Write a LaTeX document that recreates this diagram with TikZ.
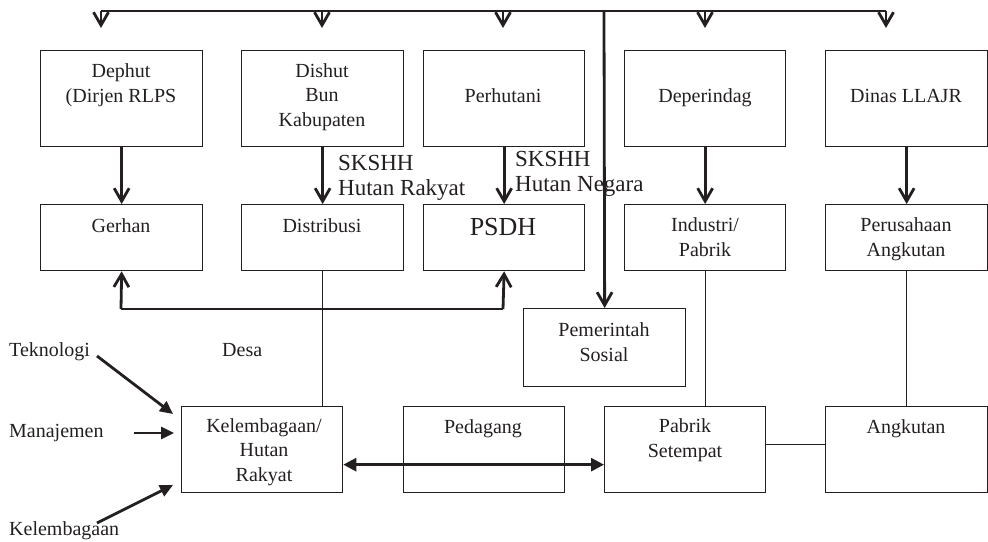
\documentclass[tikz,border=0pt]{standalone}
\usepackage{fontspec}
\setmainfont{Liberation Serif}
\usetikzlibrary{arrows.meta}
\definecolor{ink}{HTML}{231F20}
\begin{document}
\begin{tikzpicture}[x=1pt,y=-1pt,
  box/.style={draw=ink, line width=1.3pt, inner sep=0pt, anchor=north west, minimum width=162pt},
  row1/.style={box, minimum height=96pt},
  row2/.style={box, minimum height=66pt},
  row3/.style={box, minimum height=86pt},
  txt/.style={font=\fontsize{20}{24.3}\selectfont, text=ink, inner sep=0pt, align=center, anchor=base},
  ltxt/.style={font=\fontsize{20}{24.3}\selectfont, text=ink, inner sep=0pt, anchor=base west},
  skt/.style={font=\fontsize{23}{25}\selectfont, text=ink, inner sep=0pt, align=left, anchor=base west},
  thin/.style={draw=ink, line width=1.2pt},
  bar/.style={draw=ink, line width=2.8pt, -{Straight Barb[length=13pt,width=15pt]}},
  fil/.style={draw=ink, line width=2.8pt, -{Triangle[length=13pt,width=12pt]}},
  dbl/.style={draw=ink, line width=2.8pt, {Triangle[length=13pt,width=13pt]}-{Triangle[length=13pt,width=13pt]}}
]
\useasboundingbox (0,0) rectangle (988,541);

% row 1
\node[row1] (dephut) at (40,50) {};
\node[row1] (dishut) at (241,50) {};
\node[row1, minimum width=161pt] (perhutani) at (423,50) {};
\node[row1, minimum width=161pt] (deperindag) at (624,50) {};
\node[row1] (dinas) at (825,50) {};
\node[txt] (tdephut) at (121,102) {Dephut\\(Dirjen RLPS};
\node[txt] (tdishut) at (322,126) {Dishut\\Bun\\Kabupaten};
\node[txt] (tperhutani) at (503,102) {Perhutani};
\node[txt] (tdeperindag) at (705,102) {Deperindag};
\node[txt] (tdinas) at (906,102) {Dinas LLAJR};

% row 2
\node[row2] (gerhan) at (40,204) {};
\node[row2] (distribusi) at (241,204) {};
\node[row2, minimum width=161pt] (psdh) at (423,204) {};
\node[row2, minimum width=161pt] (industri) at (624,204) {};
\node[row2] (perusahaan) at (825,204) {};
\node[txt] (tgerhan) at (121,232) {Gerhan};
\node[txt] (tdistribusi) at (322,232) {Distribusi};
\node[txt, font=\fontsize{26}{28}\selectfont] (tpsdh) at (503,235) {PSDH};
\node[txt] (tindustri) at (705,256) {Industri/\\Pabrik};
\node[txt] (tperusahaan) at (906,256) {Perusahaan\\Angkutan};

% pemerintah sosial
\node[box, minimum height=78pt] (pem) at (523,308) {};
\node[txt] (tpem) at (604,361) {Pemerintah\\Sosial};

% bottom row
\node[row3, minimum width=161pt] (kel) at (181,406) {};
\node[row3, minimum width=161pt] (pedagang) at (403,406) {};
\node[row3, minimum width=161pt] (pabrik) at (604,406) {};
\node[row3] (angkutan) at (825,406) {};
\node[txt] (tkel) at (264,481) {Kelembagaan/\\Hutan\\Rakyat};
\node[txt] (tpedagang) at (483,433) {Pedagang};
\node[txt] (tpabrik) at (685,457) {Pabrik\\Setempat};
\node[txt] (tangkutan) at (906,433) {Angkutan};

% free labels
\node[ltxt] (tek) at (9,356) {Teknologi};
\node[ltxt] (desa) at (222,356) {Desa};
\node[ltxt] (man) at (9,437) {Manajemen};
\node[ltxt] (kl) at (9,535) {Kelembagaan};
\node[skt] (sk1) at (338,195) {SKSHH\\Hutan Rakyat};
\node[skt] (sk2) at (515,191) {SKSHH\\Hutan Negara};

% top bus
\coordinate (b1) at (101,11);
\coordinate (b2) at (322,11);
\coordinate (b3) at (503,11);
\coordinate (b4) at (705,11);
\coordinate (b5) at (886,11);
\coordinate (bm) at (604,10);
\draw[thin] (b1) -- (b5);
\foreach \c in {b1,b2,b3,b4,b5} {
  \coordinate (e\c) at ([yshift=-17pt]\c);
  \draw[bar] (\c) -- (e\c);
}
\draw[bar] (bm) -- (pem.north);

% row1 -> row2
\draw[bar] (dephut.south) -- (gerhan.north);
\draw[bar] (dishut.south) -- (distribusi.north);
\draw[bar] (perhutani.south) -- (psdh.north);
\draw[bar] (deperindag.south) -- (industri.north);
\draw[bar] (dinas.south) -- (perusahaan.north);

% gerhan - psdh
\coordinate (j1) at (121,309);
\coordinate (j2) at (503,309);
\draw[draw=ink, line width=1.6pt] (j1) -- (j2);
\draw[bar] (j1) -- (gerhan.south);
\draw[bar] (j2) -- (psdh.south);

% thin verticals
\draw[thin] (distribusi.south) -- (distribusi.south |- kel.north);
\draw[thin] (industri.south) -- (industri.south |- pabrik.north);
\draw[thin] (perusahaan.south) -- (angkutan.north);
\draw[thin] ([yshift=5pt]pabrik.east) -- ([yshift=5pt]angkutan.west);

% double arrow
\draw[dbl] ([yshift=-15pt]kel.east) -- ([yshift=-15pt]pabrik.west);

% inputs
\coordinate (a1) at (97,356);
\coordinate (a2) at (134,433);
\coordinate (a3) at (97,523);
\draw[fil] (a1) -- (173,414);
\draw[fil] (a2) -- (174,433);
\draw[fil] (a3) -- (173,485);
\end{tikzpicture}
\end{document}
